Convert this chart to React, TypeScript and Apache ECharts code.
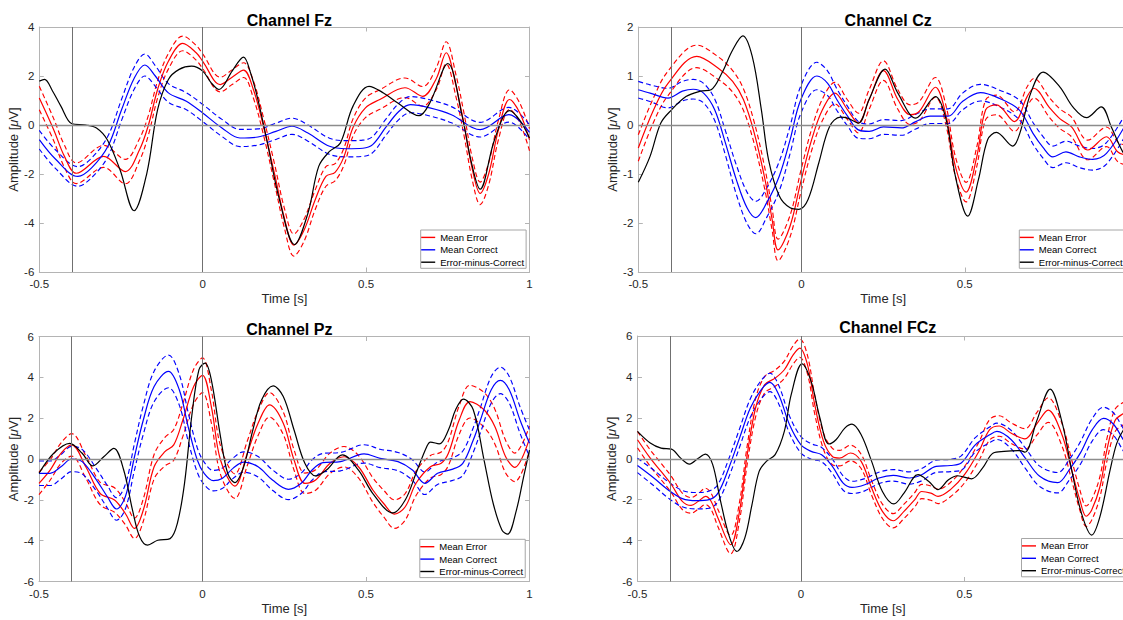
import React, { useEffect, useRef } from 'react';
import * as echarts from 'echarts';

// ---------- data ----------
// time axis
const timeMin = -0.5;
const timeMax = 1;
const timeStep = 0.5;
const markerTimes = [-0.4, 0];
const legendNames = ['Mean Error', 'Mean Correct', 'Error-minus-Correct'];

// [time s, mean µV, standard error µV]
const fzError = [
  [-0.5, 1.1, 0.48], [-0.456, -0.19, 0.45], [-0.423, -1.28, 0.45], [-0.387, -1.97, 0.42],
  [-0.303, -1.28, 0.45], [-0.237, -1.9, 0.5], [-0.193, -1.0, 0.45], [-0.166, 0.0, 0.4],
  [-0.138, 1.45, 0.35], [-0.105, 2.6, 0.32], [-0.061, 3.33, 0.3], [-0.02, 2.95, 0.3],
  [0.0, 2.6, 0.3], [0.054, 1.65, 0.3], [0.09, 1.95, 0.3], [0.125, 2.24, 0.3],
  [0.155, 1.45, 0.35], [0.185, 0.0, 0.35], [0.22, -2.0, 0.4], [0.25, -3.8, 0.4],
  [0.279, -4.9, 0.45], [0.31, -4.3, 0.45], [0.344, -3.06, 0.4], [0.377, -2.1, 0.4],
  [0.405, -1.93, 0.35], [0.432, -1.3, 0.35], [0.46, -0.1, 0.35], [0.498, 0.7, 0.4],
  [0.542, 1.04, 0.4], [0.619, 1.52, 0.4], [0.673, 1.17, 0.4], [0.715, 1.9, 0.45],
  [0.745, 2.95, 0.45], [0.775, 1.6, 0.45], [0.8, 0.0, 0.45], [0.825, -1.8, 0.45],
  [0.849, -2.79, 0.46], [0.875, -2.0, 0.45], [0.905, -0.2, 0.4], [0.939, 1.04, 0.4],
  [0.97, 0.5, 0.4], [1.0, -0.6, 0.45],
];
const fzCorrect = [
  [-0.5, -0.6, 0.38], [-0.45, -1.4, 0.38], [-0.382, -2.1, 0.4], [-0.34, -1.75, 0.4],
  [-0.29, -0.87, 0.42], [-0.248, 0.63, 0.43], [-0.21, 1.9, 0.45], [-0.177, 2.45, 0.45],
  [-0.145, 2.0, 0.42], [-0.105, 1.31, 0.38], [-0.05, 0.97, 0.35], [0.0, 0.49, 0.35],
  [0.059, -0.12, 0.35], [0.114, -0.53, 0.35], [0.169, -0.49, 0.33], [0.224, -0.26, 0.33],
  [0.273, -0.05, 0.33], [0.322, -0.33, 0.33], [0.388, -0.87, 0.33], [0.44, -0.97, 0.33],
  [0.49, -0.95, 0.33], [0.52, -0.8, 0.33], [0.56, -0.1, 0.33], [0.6, 0.55, 0.33],
  [0.635, 0.83, 0.33], [0.695, 0.7, 0.33], [0.761, 0.42, 0.33], [0.849, -0.19, 0.3],
  [0.937, 0.42, 0.3], [1.0, -0.3, 0.3],
];
// [time s, µV]
const fzDiff = [
  [-0.5, 1.79], [-0.484, 1.86], [-0.46, 1.4], [-0.434, 0.77], [-0.4, 0.05], [-0.357, 0.0],
  [-0.325, -0.12], [-0.292, -0.6], [-0.253, -1.83], [-0.21, -3.5], [-0.171, -1.97],
  [-0.138, 0.63], [-0.105, 1.86], [-0.072, 2.27], [-0.034, 2.4], [0.0, 2.2], [0.026, 1.72],
  [0.05, 1.45], [0.09, 2.2], [0.125, 2.77], [0.147, 2.1], [0.169, 1.04], [0.196, -0.6],
  [0.235, -3.06], [0.281, -4.88], [0.322, -3.6], [0.355, -1.69], [0.388, -1.08],
  [0.421, -0.74], [0.46, 0.77], [0.509, 1.58], [0.553, 1.31], [0.597, 0.9], [0.662, 0.38],
  [0.695, 0.9], [0.75, 2.51], [0.794, 0.36], [0.82, -1.4], [0.849, -2.62], [0.893, -0.6],
  [0.939, 0.59], [0.97, 0.2], [1.0, -0.53],
];

const czError = [
  [-0.5, -0.47, 0.27], [-0.453, 0.31, 0.25], [-0.409, 0.85, 0.25], [-0.321, 1.4, 0.23],
  [-0.255, 1.16, 0.23], [-0.211, 0.89, 0.22], [-0.178, 0.52, 0.22], [-0.145, -0.16, 0.22],
  [-0.112, -1.11, 0.22], [-0.09, -1.93, 0.22], [-0.072, -2.55, 0.22], [-0.035, -2.06, 0.22],
  [-0.002, -1.15, 0.22], [0.031, -0.3, 0.22], [0.064, 0.31, 0.22], [0.102, 0.65, 0.22],
  [0.141, 0.31, 0.2], [0.174, 0.04, 0.2], [0.207, 0.52, 0.2], [0.251, 1.11, 0.2],
  [0.295, 0.52, 0.2], [0.333, 0.21, 0.2], [0.361, 0.28, 0.2], [0.41, 0.77, 0.2],
  [0.443, 0.18, 0.2], [0.471, -0.84, 0.2], [0.504, -1.37, 0.2], [0.537, -0.64, 0.2],
  [0.564, 0.31, 0.2], [0.597, 0.41, 0.2], [0.652, 0.07, 0.2], [0.691, 0.58, 0.2],
  [0.712, 0.75, 0.2], [0.76, 0.35, 0.2], [0.791, 0.13, 0.2], [0.827, -0.04, 0.2],
  [0.877, -0.51, 0.2], [0.934, -0.24, 0.2], [0.969, -0.55, 0.2], [1.0, -0.62, 0.2],
];
const czCorrect = [
  [-0.5, 0.72, 0.17], [-0.464, 0.65, 0.17], [-0.409, 0.55, 0.2], [-0.365, 0.69, 0.2],
  [-0.332, 0.73, 0.2], [-0.3, 0.65, 0.2], [-0.266, 0.31, 0.22], [-0.233, -0.37, 0.25],
  [-0.2, -1.11, 0.3], [-0.167, -1.69, 0.32], [-0.14, -1.89, 0.33], [-0.107, -1.59, 0.3],
  [-0.068, -1.04, 0.3], [-0.035, -0.3, 0.28], [-0.002, 0.52, 0.28], [0.047, 1.0, 0.28],
  [0.08, 0.85, 0.25], [0.108, 0.52, 0.22], [0.141, 0.18, 0.2], [0.174, -0.1, 0.17],
  [0.207, -0.13, 0.15], [0.251, -0.04, 0.15], [0.306, -0.06, 0.15], [0.35, 0.07, 0.15],
  [0.394, 0.18, 0.15], [0.449, 0.18, 0.15], [0.493, 0.48, 0.17], [0.548, 0.66, 0.17],
  [0.607, 0.54, 0.17], [0.668, 0.3, 0.2], [0.709, -0.17, 0.22], [0.739, -0.45, 0.22],
  [0.77, -0.65, 0.22], [0.81, -0.55, 0.22], [0.851, -0.65, 0.22], [0.891, -0.7, 0.22],
  [0.934, -0.58, 0.22], [1.0, 0.1, 0.22],
];
const czDiff = [
  [-0.5, -1.17], [-0.464, -0.64], [-0.431, 0.04], [-0.398, 0.31], [-0.354, 0.58],
  [-0.31, 0.69], [-0.277, 0.72], [-0.244, 1.06], [-0.211, 1.53], [-0.18, 1.82],
  [-0.151, 1.4], [-0.123, 0.31], [-0.101, -0.71], [-0.068, -1.45], [-0.035, -1.69],
  [-0.008, -1.72], [0.02, -1.52], [0.053, -0.77], [0.086, -0.03], [0.119, 0.16],
  [0.141, 0.14], [0.174, 0.04], [0.207, 0.52], [0.256, 1.14], [0.295, 0.65], [0.35, 0.14],
  [0.41, 0.58], [0.443, 0.11], [0.471, -1.04], [0.509, -1.86], [0.542, -1.11], [0.57, -0.3],
  [0.597, -0.15], [0.647, -0.43], [0.669, -0.16], [0.702, 0.65], [0.74, 1.08], [0.791, 0.78],
  [0.831, 0.37], [0.873, 0.15], [0.918, 0.37], [0.949, -0.04], [0.984, -0.55], [1.0, -0.65],
];

const pzError = [
  [-0.5, -1.19, 0.55], [-0.466, -0.54, 0.5], [-0.433, 0.28, 0.5], [-0.4, 0.69, 0.55],
  [-0.357, -0.38, 0.55], [-0.313, -1.69, 0.55], [-0.269, -2.01, 0.6], [-0.236, -2.67, 0.55],
  [-0.208, -3.4, 0.5], [-0.181, -2.5, 0.55], [-0.148, -0.38, 0.6], [-0.115, 0.36, 0.7],
  [-0.088, 0.69, 0.75], [-0.06, 1.91, 0.8], [-0.027, 3.55, 0.85], [0.0, 4.1, 0.85],
  [0.027, 2.57, 0.8], [0.055, -0.05, 0.7], [0.099, -1.33, 0.6], [0.137, 0.28, 0.6],
  [0.17, 1.75, 0.6], [0.205, 2.65, 0.6], [0.247, 1.75, 0.55], [0.28, -0.05, 0.5],
  [0.313, -1.19, 0.5], [0.346, -1.03, 0.5], [0.39, -0.21, 0.5], [0.433, 0.11, 0.5],
  [0.477, -0.38, 0.55], [0.521, -1.52, 0.6], [0.554, -2.18, 0.65], [0.587, -2.7, 0.7],
  [0.62, -2.34, 0.65], [0.653, -1.19, 0.6], [0.697, -0.38, 0.55], [0.73, -0.21, 0.55],
  [0.752, 0.28, 0.6], [0.785, 1.91, 0.7], [0.818, 2.81, 0.8], [0.861, 2.41, 0.85],
  [0.894, 1.59, 0.85], [0.927, 0.11, 0.8], [0.955, -0.41, 0.7], [1.0, 1.01, 0.6],
];
const pzCorrect = [
  [-0.5, -0.7, 0.6], [-0.466, -0.7, 0.6], [-0.433, -0.38, 0.6], [-0.4, 0.0, 0.62],
  [-0.368, -0.13, 0.6], [-0.324, -1.03, 0.55], [-0.291, -1.85, 0.55], [-0.263, -2.45, 0.55],
  [-0.236, -1.85, 0.6], [-0.208, 0.11, 0.65], [-0.181, 1.91, 0.7], [-0.148, 3.55, 0.75],
  [-0.104, 4.29, 0.8], [-0.071, 3.39, 0.75], [-0.044, 1.59, 0.7], [-0.016, -0.05, 0.6],
  [0.005, -0.7, 0.55], [0.033, -1.06, 0.5], [0.06, -0.95, 0.5], [0.093, -0.46, 0.5],
  [0.126, -0.15, 0.5], [0.17, -0.38, 0.5], [0.214, -1.03, 0.5], [0.263, -1.49, 0.5],
  [0.302, -1.19, 0.5], [0.335, -0.54, 0.5], [0.368, -0.18, 0.45], [0.422, -0.13, 0.45],
  [0.494, 0.25, 0.45], [0.543, 0.03, 0.45], [0.598, -0.13, 0.45], [0.642, -0.54, 0.5],
  [0.68, -1.19, 0.55], [0.719, -0.7, 0.55], [0.763, -0.51, 0.55], [0.796, -0.21, 0.6],
  [0.828, 0.93, 0.6], [0.85, 1.91, 0.62], [0.883, 3.39, 0.65], [0.911, 3.85, 0.65],
  [0.938, 3.39, 0.65], [0.971, 1.91, 0.65], [1.0, 0.77, 0.65],
];
const pzDiff = [
  [-0.5, -0.7], [-0.455, 0.28], [-0.406, 0.77], [-0.368, 0.28], [-0.335, -0.34],
  [-0.302, 0.11], [-0.271, 0.52], [-0.241, -0.54], [-0.214, -2.5], [-0.192, -3.81],
  [-0.168, -4.22], [-0.137, -3.98], [-0.099, -3.9], [-0.077, -3.16], [-0.055, -1.19],
  [-0.033, 2.08], [-0.011, 4.37], [0.008, 4.7], [0.027, 3.88], [0.055, 1.1], [0.077, -0.7],
  [0.099, -1.16], [0.126, -0.38], [0.154, 1.42], [0.181, 2.9], [0.216, 3.58], [0.247, 3.06],
  [0.28, 1.42], [0.313, -0.21], [0.346, -0.83], [0.379, -0.54], [0.428, 0.2], [0.477, -0.54],
  [0.521, -1.69], [0.582, -2.64], [0.62, -2.01], [0.653, -0.7], [0.686, 0.61], [0.697, 0.83],
  [0.724, 0.74], [0.752, 1.42], [0.774, 2.41], [0.798, 2.93], [0.828, 2.41], [0.861, -0.05],
  [0.889, -2.18], [0.916, -3.49], [0.933, -3.68], [0.96, -2.5], [0.982, -0.87], [1.0, 0.44],
];

const fczError = [
  [-0.5, 0.93, 0.4], [-0.461, 0.03, 0.4], [-0.428, -0.62, 0.4], [-0.396, -1.27, 0.4],
  [-0.363, -2.08, 0.4], [-0.336, -2.28, 0.38], [-0.314, -2.08, 0.38], [-0.292, -1.84, 0.4],
  [-0.275, -2.08, 0.4], [-0.254, -2.9, 0.42], [-0.215, -4.2, 0.45], [-0.188, -2.57, 0.45],
  [-0.166, 0.03, 0.45], [-0.139, 2.48, 0.45], [-0.111, 3.62, 0.4], [-0.079, 3.94, 0.4],
  [-0.051, 4.35, 0.42], [-0.024, 5.08, 0.45], [-0.004, 5.41, 0.45], [0.02, 4.59, 0.45],
  [0.042, 2.64, 0.45], [0.069, 0.85, 0.4], [0.096, 0.11, 0.4], [0.118, 0.03, 0.38],
  [0.151, 0.28, 0.38], [0.184, -0.13, 0.35], [0.216, -1.43, 0.35], [0.249, -2.57, 0.35],
  [0.282, -3.03, 0.35], [0.315, -2.57, 0.35], [0.348, -2.0, 0.35], [0.369, -1.6, 0.35],
  [0.397, -1.68, 0.35], [0.419, -1.84, 0.35], [0.457, -1.51, 0.35], [0.5, -0.78, 0.4],
  [0.544, 0.36, 0.45], [0.577, 1.42, 0.5], [0.606, 1.6, 0.5], [0.643, 1.25, 0.5],
  [0.685, 0.97, 0.5], [0.721, 1.7, 0.55], [0.756, 2.38, 0.6], [0.797, 1.22, 0.55],
  [0.828, -0.57, 0.5], [0.853, -2.03, 0.5], [0.872, -2.81, 0.5], [0.889, -2.5, 0.5],
  [0.914, -1.38, 0.5], [0.935, 0.4, 0.55], [0.96, 1.86, 0.55], [0.985, 2.2, 0.55],
  [1.0, 2.3, 0.55],
];
const fczCorrect = [
  [-0.5, -0.33, 0.35], [-0.45, -0.94, 0.38], [-0.407, -1.51, 0.4], [-0.363, -1.95, 0.4],
  [-0.319, -2.05, 0.4], [-0.281, -2.0, 0.42], [-0.254, -1.68, 0.42], [-0.221, -0.46, 0.45],
  [-0.188, 1.01, 0.45], [-0.155, 2.48, 0.45], [-0.122, 3.37, 0.45], [-0.095, 3.73, 0.45],
  [-0.068, 3.13, 0.45], [-0.035, 1.66, 0.42], [0.0, 0.68, 0.4], [0.031, 0.36, 0.38],
  [0.063, 0.2, 0.35], [0.096, -0.37, 0.35], [0.129, -1.19, 0.35], [0.156, -1.4, 0.3],
  [0.195, -1.27, 0.3], [0.238, -0.94, 0.28], [0.282, -0.81, 0.28], [0.331, -0.94, 0.3],
  [0.369, -0.78, 0.3], [0.413, -0.37, 0.3], [0.457, -0.33, 0.3], [0.49, -0.21, 0.35],
  [0.533, 0.68, 0.35], [0.577, 1.17, 0.38], [0.599, 1.34, 0.4], [0.643, 0.93, 0.45],
  [0.686, 0.03, 0.5], [0.73, -0.86, 0.5], [0.785, -1.17, 0.5], [0.82, -0.55, 0.5],
  [0.855, 0.3, 0.55], [0.89, 1.4, 0.55], [0.925, 1.97, 0.55], [0.955, 1.7, 0.55],
  [0.985, 0.95, 0.55], [1.0, 0.6, 0.55],
];
const fczDiff = [
  [-0.5, 1.34], [-0.461, 0.77], [-0.428, 0.52], [-0.396, 0.47], [-0.368, 0.03],
  [-0.341, -0.26], [-0.314, 0.03], [-0.292, 0.23], [-0.27, -0.29], [-0.248, -1.92],
  [-0.221, -3.71], [-0.196, -4.53], [-0.172, -3.88], [-0.15, -2.25], [-0.128, -0.62],
  [-0.106, -0.13], [-0.079, 0.2], [-0.051, 1.34], [-0.03, 3.13], [0.003, 4.64], [0.031, 3.78],
  [0.058, 1.99], [0.085, 0.72], [0.107, 0.93], [0.134, 1.5], [0.156, 1.69], [0.184, 1.17],
  [0.216, -0.13], [0.249, -1.6], [0.284, -2.21], [0.315, -1.68], [0.358, -0.78],
  [0.391, -1.11], [0.419, -1.51], [0.451, -1.03], [0.479, -0.83], [0.522, -0.98],
  [0.555, -0.46], [0.588, 0.28], [0.621, 0.36], [0.67, 0.4], [0.685, 0.32], [0.721, 1.86],
  [0.762, 3.4], [0.797, 1.86], [0.828, -0.57], [0.858, -2.68], [0.889, -3.73], [0.914, -2.84],
  [0.945, -0.57], [0.965, 0.73], [0.985, 1.38], [1.0, 1.6],
];

// ---------- layout ----------
const FONT = '"Liberation Sans", Arial, Helvetica, sans-serif';
const BOX = '#b4b4b4';
const TXT = '#262626';

const panels = [
  { title: 'Channel Fz', err: fzError, cor: fzCorrect, diff: fzDiff, yMin: -6, yMax: 4, yInt: 2,
    left: 39.3, top: 27, width: 490.2, height: 245, titleTop: 7, legLeft: 420.7, legTop: 230, showMax: true },
  { title: 'Channel Cz', err: czError, cor: czCorrect, diff: czDiff, yMin: -3, yMax: 2, yInt: 1,
    left: 638.3, top: 27, width: 489.7, height: 245, titleTop: 7, legLeft: 1019.3, legTop: 230, showMax: false },
  { title: 'Channel Pz', err: pzError, cor: pzCorrect, diff: pzDiff, yMin: -6, yMax: 6, yInt: 2,
    left: 39, top: 336.5, width: 490.5, height: 245, titleTop: 316, legLeft: 419.8, legTop: 539.3, showMax: true },
  { title: 'Channel FCz', err: fczError, cor: fczCorrect, diff: fczDiff, yMin: -6, yMax: 6, yInt: 2,
    left: 637.5, top: 336, width: 490.5, height: 245.5, titleTop: 314, legLeft: 1021.5, legTop: 538.5, showMax: false },
];

function buildOption() {
  const title: any[] = [];
  const grid: any[] = [];
  const xAxis: any[] = [];
  const yAxis: any[] = [];
  const legend: any[] = [];
  const series: any[] = [];

  const axisLine = { show: true, onZero: false, lineStyle: { color: BOX, width: 1 } };
  const axisTick = { show: true, inside: true, length: 4.5, lineStyle: { color: BOX, width: 1 } };

  panels.forEach((p, i) => {
    title.push({
      text: p.title, left: p.left + p.width / 2, top: p.titleTop, textAlign: 'center',
      textStyle: { fontFamily: FONT, fontSize: 16, fontWeight: 'bold', color: '#000' },
    });
    grid.push({
      left: p.left, top: p.top, width: p.width, height: p.height, show: false,
      containLabel: false, outerBoundsMode: 'none',
    });
    xAxis.push({
      type: 'value', gridIndex: i, min: timeMin, max: timeMax, interval: timeStep, position: 'bottom',
      name: 'Time [s]', nameLocation: 'middle', nameGap: 20,
      nameTextStyle: { fontFamily: FONT, fontSize: 13, color: TXT },
      axisLine, axisTick,
      axisLabel: {
        margin: 6, fontFamily: FONT, fontSize: 11.5, color: TXT, showMaxLabel: p.showMax,
        formatter: (v: number) => String(v),
      },
      splitLine: { show: false },
    });
    xAxis.push({
      type: 'value', gridIndex: i, min: timeMin, max: timeMax, interval: timeStep, position: 'top',
      axisLine, axisTick, axisLabel: { show: false }, splitLine: { show: false },
    });
    yAxis.push({
      type: 'value', gridIndex: i, min: p.yMin, max: p.yMax, interval: p.yInt, position: 'left',
      name: '{n|Amplitude [}{m|μ}{n|V]}', nameLocation: 'middle', nameGap: 16, nameRotate: 90,
      nameTextStyle: {
        fontFamily: FONT, fontSize: 13, color: TXT,
        rich: {
          n: { fontFamily: FONT, fontSize: 13, color: TXT },
          m: { fontFamily: FONT, fontSize: 13, color: TXT, fontStyle: 'italic' },
        },
      },
      axisLine, axisTick,
      axisLabel: { margin: 5, fontFamily: FONT, fontSize: 11.5, color: TXT, formatter: (v: number) => String(v) },
      splitLine: { show: false },
    });
    yAxis.push({
      type: 'value', gridIndex: i, min: p.yMin, max: p.yMax, interval: p.yInt, position: 'right',
      axisLine, axisTick, axisLabel: { show: false }, splitLine: { show: false },
    });
    legend.push({
      data: legendNames, orient: 'vertical', left: p.legLeft, top: p.legTop,
      icon: 'rect', itemWidth: 14, itemHeight: 1.4, itemGap: 0.2,
      padding: [1.3, 2, 0, 0.5], borderColor: '#a6a6a6', borderWidth: 1, backgroundColor: '#fff',
      selectedMode: false,
      textStyle: { fontFamily: FONT, fontSize: 9.5, color: '#000', lineHeight: 12.2 },
    });

    const xi = 2 * i;
    const yi = 2 * i;
    const base = {
      type: 'line', xAxisIndex: xi, yAxisIndex: yi, symbol: 'none', smooth: 0.35,
      silent: true, clip: true,
    };
    const solid = (c: string) => ({ color: c, width: 1.2, type: 'solid' });
    const dashed = (c: string) => ({ color: c, width: 1.15, type: [5, 3] });

    series.push({
      ...base, name: 'ref-' + i, data: [],
      markLine: {
        silent: true, symbol: ['none', 'none'], label: { show: false }, animation: false,
        data: [
          ...markerTimes.map((t) => ({ xAxis: t, lineStyle: { color: '#707070', width: 1, type: 'solid' } })),
          { yAxis: 0, lineStyle: { color: '#8c8c8c', width: 1.4, type: 'solid' } },
        ],
      },
    });
    series.push({ ...base, name: 'err-up-' + i, data: p.err.map((d) => [d[0], d[1] + d[2]]), lineStyle: dashed('#ff0000'), color: '#ff0000' });
    series.push({ ...base, name: 'err-lo-' + i, data: p.err.map((d) => [d[0], d[1] - d[2]]), lineStyle: dashed('#ff0000'), color: '#ff0000' });
    series.push({ ...base, name: 'cor-up-' + i, data: p.cor.map((d) => [d[0], d[1] + d[2]]), lineStyle: dashed('#0000ff'), color: '#0000ff' });
    series.push({ ...base, name: 'cor-lo-' + i, data: p.cor.map((d) => [d[0], d[1] - d[2]]), lineStyle: dashed('#0000ff'), color: '#0000ff' });
    series.push({ ...base, name: legendNames[0], data: p.err.map((d) => [d[0], d[1]]), lineStyle: solid('#ff0000'), color: '#ff0000' });
    series.push({ ...base, name: legendNames[1], data: p.cor.map((d) => [d[0], d[1]]), lineStyle: solid('#0000ff'), color: '#0000ff' });
    series.push({ ...base, name: legendNames[2], data: p.diff.map((d) => [d[0], d[1]]), lineStyle: solid('#000000'), color: '#000000' });
  });

  return { animation: false, backgroundColor: '#ffffff', title, grid, xAxis, yAxis, legend, series };
}

export default function App() {
  const ref = useRef<HTMLDivElement>(null);
  useEffect(() => {
    if (!ref.current) return;
    const chart = echarts.init(ref.current, undefined, { renderer: 'svg' });
    chart.setOption(buildOption() as any);
    return () => chart.dispose();
  }, []);
  return (
    <div
      ref={ref}
      style={{ position: 'absolute', left: 0, top: 0, width: 1123, height: 620, overflow: 'hidden', background: '#fff' }}
    />
  );
}
